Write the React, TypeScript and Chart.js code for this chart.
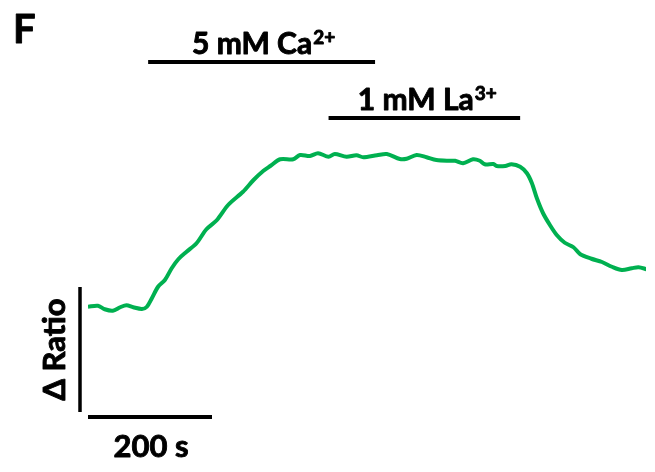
import React, { useEffect, useRef } from "react";
import { Chart, registerables } from "chart.js";

Chart.register(...registerables);

// Time (s) and ΔRatio trace
const timeSec = [
  0, 16, 27, 40, 52, 62, 73, 87, 95, 103, 113, 124, 135, 146, 159, 175, 191, 208, 226, 250, 267, 283, 294, 310,
  331, 342, 358, 371, 388, 398, 417, 433, 444, 466, 482, 503, 514, 530, 546, 562, 584, 592, 605, 621, 632, 640,
  654, 659, 673, 683, 697, 708, 716, 724, 734, 745, 756, 769, 783, 794, 812, 829, 845, 861, 877, 888, 901,
];
const ratioValues = [
  0.421, 0.425, 0.411, 0.405, 0.419, 0.427, 0.419, 0.412, 0.421, 0.455, 0.501, 0.528, 0.575, 0.612, 0.641, 0.675,
  0.731, 0.768, 0.828, 0.881, 0.928, 0.965, 0.984, 1.011, 1.011, 1.028, 1.024, 1.035, 1.021, 1.032, 1.021, 1.027,
  1.019, 1.027, 1.032, 1.012, 1.013, 1.028, 1.019, 1.008, 1.005, 1.005, 0.995, 1.011, 1.005, 0.991, 0.992, 0.984,
  0.984, 0.991, 0.981, 0.955, 0.915, 0.855, 0.795, 0.748, 0.708, 0.677, 0.659, 0.631, 0.613, 0.6, 0.581, 0.568,
  0.575, 0.579, 0.571,
];

// Treatment application windows (s)
const caWindow = [97, 463];
const laWindow = [388, 697];
const caLabel = ["5 mM Ca", "2+"];
const laLabel = ["1 mM La", "3+"];

// Scale bars
const timeBarSec = 200;
const timeBarLabel = "200 s";
const ratioBar = 0.5;
const ratioBarLabel = "Δ Ratio";
const panelLabel = "F";

const FONT = "Lato, 'Open Sans', sans-serif";
const W = "bold";

function heavyText(ctx: CanvasRenderingContext2D, s: string, x: number, y: number) {
  ctx.fillText(s, x, y);
  ctx.lineWidth = 0.9;
  ctx.lineJoin = "round";
  ctx.strokeText(s, x, y);
}

function drawSupText(ctx: CanvasRenderingContext2D, parts: string[], cx: number, baseline: number) {
  ctx.font = `${W} 30px ${FONT}`;
  const w1 = ctx.measureText(parts[0]).width;
  ctx.font = `${W} 19px ${FONT}`;
  const w2 = ctx.measureText(parts[1]).width;
  const left = cx - (w1 + w2 + 1) / 2;
  ctx.textAlign = "left";
  ctx.textBaseline = "alphabetic";
  ctx.font = `${W} 30px ${FONT}`;
  heavyText(ctx, parts[0], left, baseline);
  ctx.font = `${W} 19px ${FONT}`;
  heavyText(ctx, parts[1], left + w1 + 1, baseline - 10);
}

const overlay = {
  id: "overlay",
  afterDraw(chart: any) {
    const ctx: CanvasRenderingContext2D = chart.ctx;
    const xs = chart.scales.x;
    const ys = chart.scales.y;
    ctx.save();
    ctx.fillStyle = "#000";
    ctx.strokeStyle = "#000";
    ctx.lineCap = "butt";

    // treatment bars
    ctx.lineWidth = 4;
    const yCa = ys.getPixelForValue(1.4);
    const yLa = ys.getPixelForValue(1.176);
    ctx.beginPath();
    ctx.moveTo(xs.getPixelForValue(caWindow[0]), yCa);
    ctx.lineTo(xs.getPixelForValue(caWindow[1]), yCa);
    ctx.moveTo(xs.getPixelForValue(laWindow[0]), yLa);
    ctx.lineTo(xs.getPixelForValue(laWindow[1]), yLa);
    ctx.stroke();
    drawSupText(ctx, caLabel, (xs.getPixelForValue(caWindow[0]) + xs.getPixelForValue(caWindow[1])) / 2 + 2, yCa - 8.5);
    drawSupText(ctx, laLabel, (xs.getPixelForValue(laWindow[0]) + xs.getPixelForValue(laWindow[1])) / 2 + 3, yLa - 8);

    // scale bars
    const y0 = ys.getPixelForValue(0);
    const x0 = xs.getPixelForValue(0);
    ctx.lineWidth = 4;
    ctx.beginPath();
    ctx.moveTo(x0, y0 + 5);
    ctx.lineTo(xs.getPixelForValue(timeBarSec), y0 + 5);
    ctx.stroke();
    ctx.lineWidth = 3.5;
    ctx.beginPath();
    ctx.moveTo(x0 - 8, y0);
    ctx.lineTo(x0 - 8, ys.getPixelForValue(ratioBar));
    ctx.stroke();

    ctx.font = `${W} 31px ${FONT}`;
    ctx.textAlign = "center";
    ctx.textBaseline = "alphabetic";
    heavyText(ctx, timeBarLabel, (x0 + xs.getPixelForValue(timeBarSec)) / 2 + 1, y0 + 45);

    ctx.save();
    ctx.translate(x0 - 23, (y0 + ys.getPixelForValue(ratioBar)) / 2);
    ctx.rotate(-Math.PI / 2);
    ctx.font = `${W} 31px ${FONT}`;
    ctx.textAlign = "center";
    heavyText(ctx, ratioBarLabel, 0, 0);
    ctx.restore();

    ctx.font = `${W} 40px ${FONT}`;
    ctx.textAlign = "left";
    heavyText(ctx, panelLabel, 13, 43);
    ctx.restore();
  },
};

export default function App() {
  const ref = useRef<HTMLCanvasElement>(null);
  useEffect(() => {
    if (!ref.current) return;
    const chart = new Chart(ref.current, {
      type: "line",
      data: {
        datasets: [
          {
            data: timeSec.map((t, i) => ({ x: t, y: ratioValues[i] })),
            borderColor: "#00B050",
            borderWidth: 4,
            pointRadius: 0,
            tension: 0.3,
            fill: false,
          },
        ],
      },
      options: {
        animation: false,
        responsive: false,
        devicePixelRatio: 1,
        layout: { padding: { left: 88, right: 9, top: 12, bottom: 10 } },
        plugins: { legend: { display: false }, tooltip: { enabled: false } },
        scales: {
          x: { type: "linear", min: 0, max: 900, display: false },
          y: { type: "linear", min: -0.2, max: 1.6, display: false },
        },
      },
      plugins: [overlay],
    });
    return () => chart.destroy();
  }, []);
  return (
    <div style={{ position: "fixed", left: 0, top: 0, width: 655, height: 472, background: "#fff" }}>
      <canvas ref={ref} width={655} height={472} />
    </div>
  );
}
